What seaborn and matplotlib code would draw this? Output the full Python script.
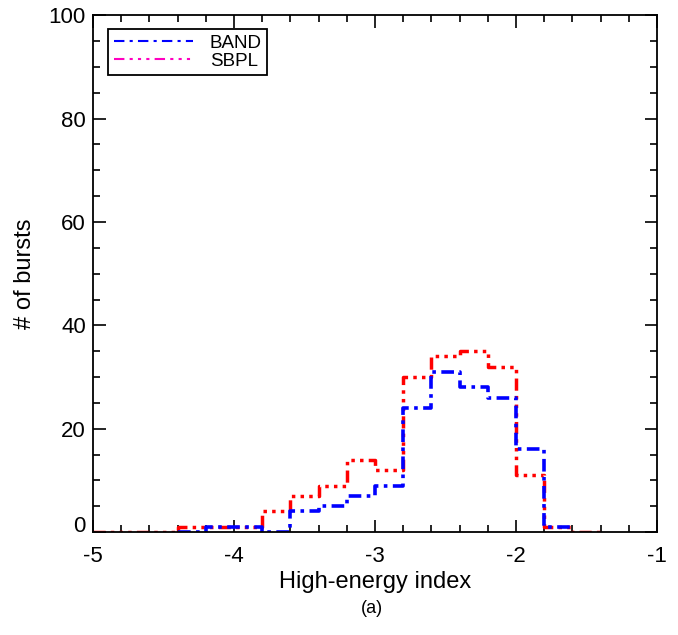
import matplotlib
matplotlib.use('Agg')
import matplotlib.pyplot as plt
from matplotlib.lines import Line2D
import numpy as np
import pandas as pd
import seaborn as sns

# histogram counts per 0.2-wide bin (left edges)
band_left = [-4.4, -4.2, -4.0, -3.8, -3.6, -3.4, -3.2, -3.0, -2.8, -2.6, -2.4, -2.2, -2.0, -1.8]
band_counts = [0, 1, 1, 0, 4, 5, 7, 9, 24, 31, 28, 26, 16, 1]
sbpl_left = [-5.0, -4.8, -4.6, -4.4, -4.2, -4.0, -3.8, -3.6, -3.4, -3.2, -3.0,
             -2.8, -2.6, -2.4, -2.2, -2.0, -1.8, -1.6]
sbpl_counts = [0, 0, 0, 1, 1, 1, 4, 7, 9, 14, 12, 30, 34, 35, 32, 11, 1, 0]
bin_width = 0.2


def step_frame(left, counts, name):
    x = list(left) + [left[-1] + bin_width]
    y = list(counts) + [counts[-1]]
    return pd.DataFrame({'index': x, 'n': y, 'model': name})


df_band = step_frame(band_left, band_counts, 'BAND')
df_sbpl = step_frame(sbpl_left, sbpl_counts, 'SBPL')

sns.set_style('ticks', {'text.color': 'black', 'axes.labelcolor': 'black',
                        'xtick.color': 'black', 'ytick.color': 'black',
                        'axes.edgecolor': 'black'})
plt.rcParams['font.family'] = ['Liberation Sans', 'DejaVu Sans']

fig = plt.figure(figsize=(6.78, 6.35), dpi=100)
ax = fig.add_axes([0.137, 0.162, 0.832, 0.814])

dashdot = (0, (3.5, 1.5, 1, 1.5))
dashdot3 = (0, (3.5, 1.5, 1, 1.5, 1, 1.5, 1, 1.5))

sns.lineplot(df_sbpl, x='index', y='n', drawstyle='steps-post', color='red',
             lw=2.5, linestyle=dashdot3, ax=ax, estimator=None)
sns.lineplot(df_band, x='index', y='n', drawstyle='steps-post', color='blue',
             lw=2.6, linestyle=dashdot, ax=ax, estimator=None)

ax.set_xlim(-5, -1)
ax.set_ylim(0, 100)
ax.set_xticks(np.arange(-5, -0.99, 1))
ax.set_xticklabels(['-5', '-4', '-3', '-2', '-1'])
ax.set_xticks(np.arange(-5, -0.99, 0.2), minor=True)
ax.set_yticks(np.arange(0, 101, 20))
ax.set_yticks(np.arange(0, 101, 5), minor=True)
ax.tick_params(which='both', direction='in', top=True, right=True, width=1.2, labelsize=16)
ax.tick_params(which='major', length=9)
ax.tick_params(which='minor', length=5)
ax.tick_params(axis='x', which='major', pad=10)
ax.tick_params(axis='y', which='major', pad=5)
for sp in ax.spines.values():
    sp.set_linewidth(1.3)
    sp.set_visible(True)

# the zero label sits a little above the axis in the original
ax.yaxis.get_major_ticks()[0].label1.set_verticalalignment('baseline')

ax.set_xlabel('High-energy index', fontsize=17, labelpad=3)
ax.set_ylabel('# of bursts', fontsize=17, labelpad=9)

handles = [Line2D([], [], color='blue', lw=1.5, linestyle=(0, (5, 2.5, 1.5, 2.5))),
           Line2D([], [], color='#ff00c0', lw=1.5,
                  linestyle=(0, (5, 2.5, 1.5, 2.5, 1.5, 2.5, 1.5, 2.5)))]
leg = ax.legend(handles, ['BAND', 'SBPL'], loc='upper left', fontsize=13.5,
                frameon=True, fancybox=False, edgecolor='black', framealpha=1,
                handlelength=4.2, borderpad=0.3, labelspacing=0.05,
                bbox_to_anchor=(0.011, 0.992), handletextpad=0.9)
leg.get_frame().set_linewidth(1.3)

fig.text(0.548, 0.041, '(a)', ha='center', va='center', fontsize=13)

fig.savefig('out.png', dpi=100)
